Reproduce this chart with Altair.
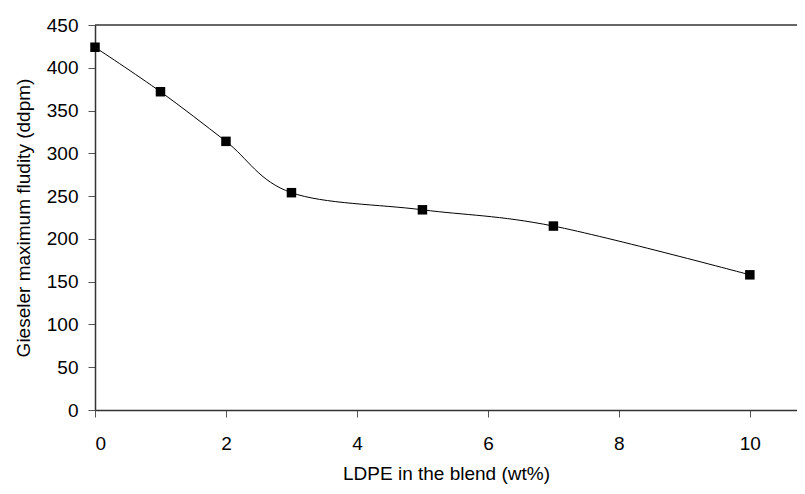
import altair as alt
import pandas as pd

ldpe = [0, 1, 2, 3, 5, 7, 10]
fluidity = [424, 372, 314, 254, 234, 215, 158]
x_ticks = [0, 2, 4, 6, 8, 10]
y_ticks = [0, 50, 100, 150, 200, 250, 300, 350, 400, 450]

XMAX = 10.72
FONT = "Liberation Sans, Arial, sans-serif"

df = pd.DataFrame({"x": ldpe, "y": fluidity})
top = pd.DataFrame({"x": [0], "x2": [XMAX], "y": [450]})

xs = alt.Scale(domain=[0, XMAX], nice=False, zero=False)
ys = alt.Scale(domain=[0, 450], nice=False)

line = alt.Chart(df).mark_line(
    interpolate="cardinal", color="black", strokeWidth=1, clip=True
).encode(
    x=alt.X("x:Q", scale=xs, title="LDPE in the blend (wt%)",
            axis=alt.Axis(values=x_ticks, format="d", grid=False, tickSize=7,
                          labelPadding=17, titlePadding=11, labelFontSize=19,
                          titleFontSize=19, titleFontWeight="normal", labelFont=FONT,
                          titleFont=FONT, domainColor="#333", tickColor="#555",
                          labelColor="black", titleColor="black", domainWidth=1.5)),
    y=alt.Y("y:Q", scale=ys, title="Gieseler maximum fludity (ddpm)",
            axis=alt.Axis(values=y_ticks, format="d", grid=False, tickSize=7,
                          labelPadding=10, titlePadding=13, labelFontSize=19,
                          titleFontSize=19, titleFontWeight="normal", labelFont=FONT,
                          titleFont=FONT, domainColor="#333", tickColor="#555",
                          labelColor="black", titleColor="black", domainWidth=1.5)),
)

pts = alt.Chart(df).mark_point(
    shape="square", filled=True, color="black", size=90, opacity=1
).encode(x=alt.X("x:Q", scale=xs), y=alt.Y("y:Q", scale=ys))

border = alt.Chart(top).mark_rule(color="#333", strokeWidth=1.5).encode(
    x=alt.X("x:Q", scale=xs), x2="x2:Q", y=alt.Y("y:Q", scale=ys)
)

chart = alt.layer(border, line, pts).properties(
    width=702, height=385,
    autosize=alt.AutoSizeParams(type="none"),
    padding={"left": 87, "top": 17, "right": 0, "bottom": 76},
).configure_view(stroke=None)

chart.save("out.html", embed_options={"renderer": "svg", "actions": False})
